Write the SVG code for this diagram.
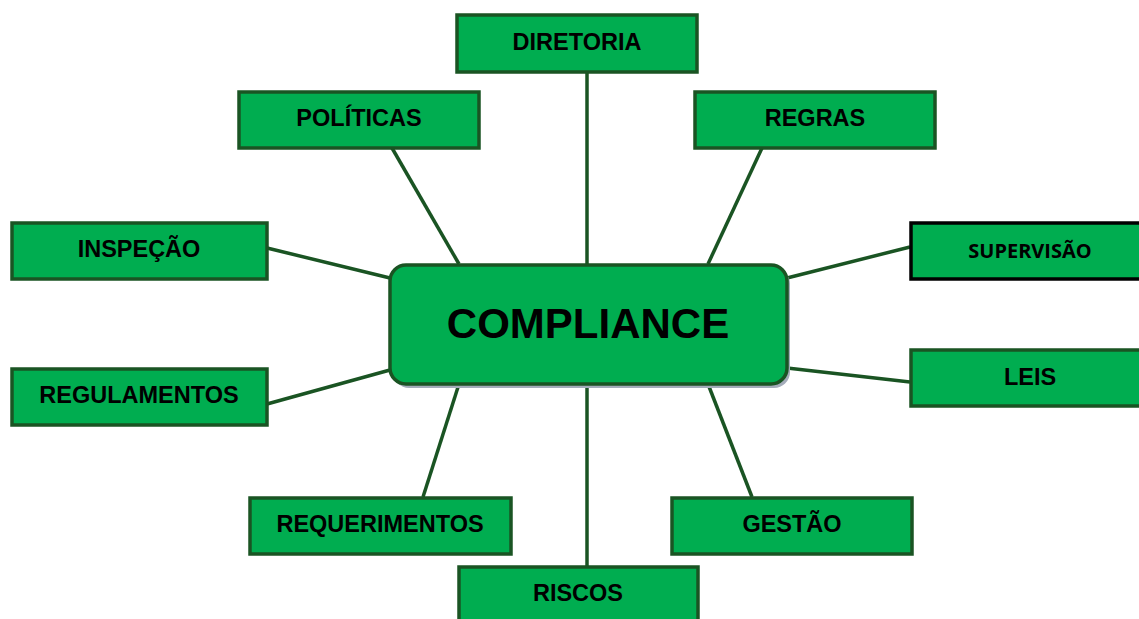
<svg xmlns="http://www.w3.org/2000/svg" width="1139" height="619" viewBox="0 0 1139 619">
<style>
.box{fill:#00ad50;stroke:#1a5423;stroke-width:3.5}
.lbl{font-family:"Liberation Sans",Arial,sans-serif;font-weight:bold;font-size:23.5px;fill:#000;text-anchor:middle}
.edge{stroke:#1a5423;stroke-width:3.5;fill:none}
</style>
<rect width="1139" height="619" fill="#fff"/>
<g id="connectors">
<line class="edge" x1="587" y1="72" x2="587" y2="264"/>
<line class="edge" x1="392" y1="148" x2="459" y2="264"/>
<line class="edge" x1="762" y1="148" x2="708" y2="264"/>
<line class="edge" x1="267" y1="248" x2="390" y2="278"/>
<line class="edge" x1="910" y1="247" x2="787" y2="278"/>
<line class="edge" x1="267" y1="404" x2="390" y2="370"/>
<line class="edge" x1="910" y1="382" x2="787" y2="368"/>
<line class="edge" x1="423" y1="497" x2="459" y2="384"/>
<line class="edge" x1="752" y1="497" x2="708" y2="384"/>
<line class="edge" x1="587" y1="384" x2="587" y2="567"/>
</g>
<g id="compliance">
<rect x="393" y="268" width="397" height="120" rx="16" fill="#a4acba"/>
<rect class="box" x="390" y="265" width="397" height="119" rx="16"/>
<text x="588" y="338" style="font-family:'Liberation Sans',Arial,sans-serif;font-weight:bold;font-size:42px" text-anchor="middle">COMPLIANCE</text>
</g>
<g id="diretoria"><rect class="box" x="457" y="15" width="240" height="57"/><text class="lbl" x="577" y="50">DIRETORIA</text></g>
<g id="politicas"><rect class="box" x="239" y="92" width="240" height="56"/><text class="lbl" x="359" y="126">POLÍTICAS</text></g>
<g id="regras"><rect class="box" x="695" y="92" width="240" height="56"/><text class="lbl" x="815" y="126">REGRAS</text></g>
<g id="inspecao"><rect class="box" x="12" y="223" width="255" height="56"/><text class="lbl" x="139" y="257">INSPEÇÃO</text></g>
<g id="supervisao"><rect x="911" y="223" width="232" height="56" fill="#00ad50" stroke="#000" stroke-width="3.5"/><text x="1030" y="258" style="font-family:'Open Sans','Noto Sans',sans-serif;font-weight:bold;font-size:20px" text-anchor="middle">SUPERVISÃO</text></g>
<g id="leis"><rect class="box" x="911" y="350" width="232" height="56"/><text class="lbl" x="1030" y="385">LEIS</text></g>
<g id="regulamentos"><rect class="box" x="12" y="369" width="255" height="56"/><text class="lbl" x="139" y="403">REGULAMENTOS</text></g>
<g id="requerimentos"><rect class="box" x="250" y="498" width="261" height="56"/><text class="lbl" x="380" y="532">REQUERIMENTOS</text></g>
<g id="gestao"><rect class="box" x="672" y="498" width="240" height="56"/><text class="lbl" x="792" y="532">GESTÃO</text></g>
<g id="riscos"><rect class="box" x="459" y="567" width="239" height="60"/><text class="lbl" x="578" y="601">RISCOS</text></g>
</svg>
